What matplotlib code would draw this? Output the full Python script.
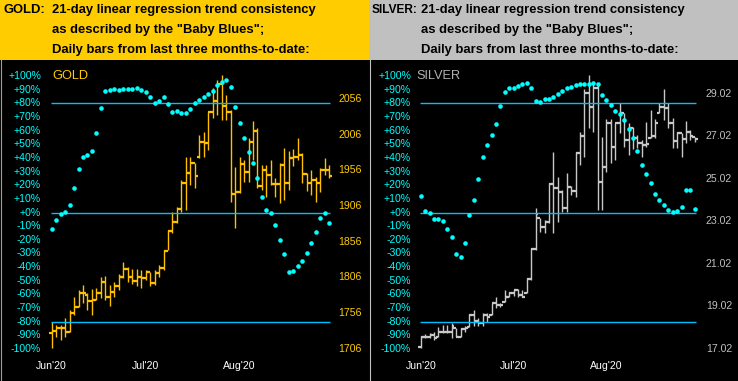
import matplotlib
matplotlib.use('Agg')
import matplotlib.pyplot as plt
from matplotlib.patches import Rectangle
from matplotlib.lines import Line2D
import matplotlib.transforms as mtransforms

plt.rcParams['font.family'] = ['Liberation Sans', 'DejaVu Sans']

# ---------------- data ----------------
date_labels = ["Jun'20", "Jul'20", "Aug'20"]
date_pos = [0, 21, 42]
pct_ticks = list(range(100, -101, -10))

gold_price_ticks = [2056, 2006, 1956, 1906, 1856, 1806, 1756, 1706]
silver_price_ticks = [29.02, 27.02, 25.02, 23.02, 21.02, 19.02, 17.02]

gold_open = [1728, 1731.3, 1735.5, 1735.5, 1729.9, 1756.5, 1764.9, 1783.6, 1781, 1772.9,
             1774.3, 1784.5, 1800.0, 1778.9, 1785.9, 1793.9, 1806.0, 1817.7, 1807.0, 1800.9,
             1806.0, 1804.6, 1814.0, 1797.6, 1812.6, 1818.7, 1843.4, 1871.4, 1884.1, 1901.4,
             1937.8, 1951.8, 1965.8, 1975.0, 1995.3, 1993.9, 2038.2, 2053.7, 2076.6, 2046.7,
             2038.2, 1922.4, 1925.2, 1964.4, 1954.1, 1996.2, 2011.6, 1934.1, 1956.5, 1949.0,
             1936.4, 1936.4, 1963.0, 1937.8, 1973.8, 1975.2, 1977.0, 1950.4, 1937.8, 1942.5,
             1938.7, 1956.5, 1956.5]
gold_high = [1743.0, 1739.2, 1739.2, 1748.6, 1760.2, 1778.9, 1788.3, 1795.3, 1784.0, 1789.2,
             1790.6, 1807.0, 1807.9, 1795.3, 1800.0, 1810.7, 1828.0, 1821.0, 1817.3, 1817.3,
             1816.3, 1816.3, 1814.0, 1816.3, 1823.3, 1844.3, 1872.4, 1898.1, 1905.1, 1942.5,
             1975.2, 1975.2, 1965.8, 2005.5, 2010.2, 2038.2, 2071.0, 2082.6, 2089.6, 2061.6,
             2040.6, 1961.2, 1975.2, 1970.5, 2000.9, 2025.2, 2014.9, 1963.5, 1963.5, 1970.5,
             1944.8, 1965.8, 1986.9, 1983.6, 1985.5, 2000.9, 1979.9, 1951.8, 1956.5, 1947.1,
             1958.8, 1973.8, 1963.5]
gold_low = [1706.5, 1721.9, 1718.2, 1722.9, 1729.9, 1753.2, 1764.9, 1769.6, 1760.2, 1753.2,
            1774.3, 1776.6, 1774.3, 1765.9, 1778.9, 1788.3, 1804.6, 1800.0, 1796.7, 1793.9,
            1790.6, 1802.3, 1794.3, 1795.3, 1807.0, 1816.3, 1844.3, 1867.7, 1881.7, 1898.1,
            1900.4, 1935.5, 1930.8, 1972.8, 1975.2, 1984.5, 2028.9, 2033.6, 2026.6, 2026.6,
            1912.1, 1874.8, 1923.8, 1940.1, 1940.1, 1970.5, 1930.8, 1928.5, 1918.2, 1935.5,
            1919.1, 1909.8, 1914.4, 1928.5, 1962.1, 1970.5, 1938.7, 1927.5, 1921.4, 1912.1,
            1926.1, 1949.5, 1944.8]
gold_close = [1731.3, 1735.5, 1735.5, 1729.9, 1756.5, 1764.9, 1783.6, 1783.6, 1772.9, 1774.3,
              1784.5, 1800.0, 1778.9, 1785.9, 1793.9, 1806.0, 1817.7, 1807.0, 1800.9, 1806.0,
              1804.6, 1814.0, 1797.6, 1812.6, 1818.7, 1843.4, 1871.4, 1884.1, 1901.4, 1937.8,
              1951.8, 1965.8, 1948.5, 1995.3, 1993.9, 2038.2, 2053.7, 2076.6, 2046.7, 2038.2,
              1922.4, 1925.2, 1964.4, 1954.1, 1996.2, 2011.6, 1934.1, 1956.5, 1949.0, 1936.4,
              1936.4, 1963.0, 1937.8, 1973.8, 1975.2, 1977.0, 1950.4, 1937.8, 1942.5, 1938.7,
              1956.5, 1956.5, 1948.5]
gold_trend = [-12.1, -5.5, -0.9, 0.4, 5.7, 18.2, 32.1, 40.9, 42.1, 45.3,
              58.5, 76.8, 89.2, 90.0, 90.7, 90.0, 90.7, 90.7, 90.7, 91.4,
              90.0, 88.3, 84.8, 80.4, 81.9, 84.8, 79.3, 73.9, 74.4, 72.7,
              73.1, 75.8, 80.4, 82.6, 84.8, 87.0, 89.0, 93.2, 95.6, 97.3,
              92.2, 77.5, 65.8, 54.8, 44.5, 36.5, 25.0, 11.1, 2.1, -0.1,
              -8.9, -20.1, -30.2, -43.4, -42.7, -38.9, -35.3, -29.5, -22.2, -14.3,
              -4.0, -0.1, -7.5]

silver_open = [17.10, 17.59, 17.59, 17.67, 17.59, 17.82, 17.79, 17.79, 17.98, 17.59,
               17.93, 18.03, 18.61, 18.34, 18.25, 18.61, 18.61, 19.16, 19.08, 19.24,
               19.47, 19.63, 19.79, 19.55, 19.63, 20.29, 21.70, 23.16, 22.77, 22.98,
               24.78, 24.58, 24.42, 23.64, 24.66, 24.47, 26.23, 27.04, 29.05, 28.43,
               29.29, 24.89, 25.60, 27.64, 26.54, 27.64, 28.11, 26.86, 27.41, 26.93,
               26.70, 26.62, 26.93, 27.04, 28.11, 28.43, 28.38, 27.64, 26.81, 27.17,
               26.89, 27.25, 26.98]
silver_high = [17.62, 17.70, 17.78, 17.82, 18.06, 18.14, 18.14, 18.22, 17.98, 18.01,
               18.09, 18.66, 18.84, 18.45, 18.69, 18.69, 19.16, 19.44, 19.19, 19.79,
               19.71, 19.82, 19.82, 19.79, 20.34, 21.75, 23.64, 23.16, 23.09, 24.81,
               26.27, 25.10, 24.50, 25.28, 24.69, 26.31, 27.25, 29.24, 29.92, 29.53,
               29.45, 27.01, 27.83, 27.83, 27.64, 28.58, 28.11, 27.64, 27.48, 27.09,
               26.86, 27.72, 28.27, 27.83, 28.61, 29.24, 28.58, 27.88, 27.25, 27.17,
               27.75, 27.33, 26.98]
silver_low = [17.04, 17.51, 17.51, 17.43, 17.59, 17.78, 17.74, 17.51, 17.59, 17.59,
              17.82, 18.03, 18.09, 18.09, 18.09, 18.29, 18.61, 18.92, 19.00, 19.24,
              19.47, 19.50, 19.47, 19.44, 19.63, 20.26, 21.67, 22.53, 22.49, 22.93,
              22.49, 23.01, 23.48, 23.48, 24.26, 24.18, 25.68, 26.07, 27.41, 27.25,
              23.56, 23.56, 25.36, 25.76, 25.91, 27.17, 26.54, 26.15, 26.42, 26.46,
              26.07, 26.54, 26.93, 26.93, 28.11, 27.80, 27.41, 26.46, 26.46, 26.04,
              26.70, 26.86, 26.78]
silver_close = [17.59, 17.59, 17.67, 17.51, 17.82, 17.79, 17.79, 18.09, 17.59, 17.93,
                18.01, 18.61, 18.34, 18.25, 18.61, 18.53, 19.16, 19.08, 19.08, 19.47,
                19.63, 19.79, 19.55, 19.47, 20.29, 21.70, 23.35, 22.77, 22.98, 24.78,
                24.58, 24.42, 23.64, 24.66, 24.47, 26.23, 27.04, 29.05, 28.43, 29.29,
                24.89, 25.60, 27.64, 26.54, 27.64, 28.14, 26.86, 27.41, 26.93, 26.70,
                26.62, 26.67, 27.04, 27.64, 28.43, 28.38, 27.64, 26.81, 27.20, 26.89,
                27.25, 27.04, 26.90]
silver_trend = [12.3, 1.1, -0.1, -4.5, -4.5, -6.2, -12.0, -17.7, -30.6, -32.4,
                -22.1, -1.6, 9.4, 24.8, 40.7, 49.7, 56.8, 64.8, 78.0, 88.3,
                91.2, 91.2, 92.7, 94.1, 95.1, 91.2, 81.9, 81.0, 83.4, 83.4,
                84.8, 87.0, 89.2, 91.4, 92.2, 93.6, 94.1, 94.1, 94.1, 94.9,
                94.1, 86.3, 82.4, 78.8, 74.4, 72.2, 67.8, 61.2, 54.8, 45.3,
                34.8, 28.2, 21.6, 13.6, 9.2, 5.5, 1.8, 0.6, 1.3, 4.2,
                16.5, 16.5, 2.6]

# ---------------- layout ----------------
W, H = 738, 381
HEAD = 60
fig = plt.figure(figsize=(W / 100, H / 100), dpi=100, facecolor='black')


def fx(px):
    return px / W


def fy(py):
    return 1 - py / H


LINE_C = '#00BFFF'
DOT_C = '#00FFFF'
PCT_C = '#00FFFF'


def draw_panel(left_px, width_px, x0_px, dx_px, o, hi, lo, cl, trend,
               price_ticks, price_fmt, price_hi_y, price_lo_y,
               bar_color, plabel_color, title, title_color, title_x):
    plot_h = H - HEAD
    ax = fig.add_axes([fx(left_px), 0, width_px / W, plot_h / H])
    ax.set_facecolor('black')
    for s in ax.spines.values():
        s.set_visible(False)
    ax.set_xticks([])
    ax.set_yticks([])
    # x mapping: bar i at x0_px + i*dx_px (panel-relative pixels)
    ax.set_xlim(-x0_px / dx_px, (width_px - x0_px) / dx_px)
    # price mapping from label anchors (absolute pixel y)
    p_top, p_bot = price_ticks[0], price_ticks[-1]
    scale = (price_lo_y - price_hi_y) / (p_top - p_bot)  # px per unit
    ylo = p_bot - (H - price_lo_y) / scale
    yhi = p_bot + (price_lo_y - HEAD) / scale
    ax.set_ylim(ylo, yhi)

    n = len(cl)
    idx = list(range(n))
    w = 0.62
    ax.vlines(idx, lo, hi, color=bar_color, lw=1.0, zorder=2)
    ax.hlines(o, [i - w for i in idx], idx, color=bar_color, lw=1.6, zorder=2)
    ax.hlines(cl, idx, [i + w for i in idx], color=bar_color, lw=1.6, zorder=2)

    # percent axis
    ax2 = ax.twinx()
    ax2.set_facecolor('none')
    for s in ax2.spines.values():
        s.set_visible(False)
    ax2.set_xticks([])
    ax2.set_yticks([])
    # +100% at y=76, -100% at y=349 (absolute pixels)
    pscale = (349 - 76) / 200.0
    pzero = (349 + 76) / 2.0
    ax2.set_ylim((pzero - H) / pscale, (pzero - HEAD) / pscale)
    ax2.set_xlim(ax.get_xlim())
    for lev in (80, 0, -80):
        ax2.hlines(lev, -0.2, n - 1 + 0.3, color=LINE_C, lw=1.0, zorder=3)
    ax2.plot(idx, trend, 'o', color=DOT_C, ms=3.3, mew=0, zorder=4)

    tr2 = mtransforms.blended_transform_factory(ax2.transAxes, ax2.transData)
    for v in pct_ticks:
        ax2.text(41 / width_px, v, f"{v:+d}%", transform=tr2, ha='right', va='center',
                 color=PCT_C, fontsize=7.6)
    tr1 = mtransforms.blended_transform_factory(ax.transAxes, ax.transData)
    for v in price_ticks:
        ax.text(362 / width_px, v, price_fmt(v), transform=tr1, ha='right', va='center',
                color=plabel_color, fontsize=7.6)
    trd = mtransforms.blended_transform_factory(ax.transData, ax.transAxes)
    for lab, pos in zip(date_labels, date_pos):
        ax.text(pos, (plot_h - 306) / plot_h, lab, transform=trd, ha='center', va='center',
                color='white', fontsize=7.6)
    ax.text(title_x / width_px, (plot_h - 16) / plot_h, title, transform=ax.transAxes,
            ha='left', va='center', color=title_color, fontsize=9.2)
    return ax


# headers
fig.add_artist(Rectangle((0, fy(HEAD)), fx(369), HEAD / H, transform=fig.transFigure,
                         facecolor='#FFCC00', edgecolor='none'))
fig.add_artist(Rectangle((fx(369), fy(HEAD)), fx(W - 369), HEAD / H, transform=fig.transFigure,
                         facecolor='#C0C0C0', edgecolor='none'))

HF = dict(fontsize=9.4, fontweight='bold', color='black', va='center', ha='left')
HF_S = dict(HF, fontsize=8.6)
fig.text(fx(4), fy(10), "GOLD:", **HF)
fig.text(fx(52), fy(10), "21-day linear regression trend consistency", **HF)
fig.text(fx(52), fy(30.5), 'as described by the "Baby Blues";', **HF)
fig.text(fx(52), fy(50), "Daily bars from last three months-to-date:", **HF)

fig.text(fx(372), fy(10), "SILVER:", **HF_S)
fig.text(fx(421), fy(10), "21-day linear regression trend consistency", **HF)
fig.text(fx(421), fy(30.5), 'as described by the "Baby Blues";', **HF)
fig.text(fx(421), fy(50), "Daily bars from last three months-to-date:", **HF)

draw_panel(0, 369, 51.7, 4.473, gold_open, gold_high, gold_low, gold_close, gold_trend,
           gold_price_ticks, lambda v: f"{v:d}", 99.0, 348.7,
           '#FFC000', '#FFCC00', 'GOLD', '#FFCC00', 52)
draw_panel(370, 368, 50.8, 4.42, silver_open, silver_high, silver_low, silver_close, silver_trend,
           silver_price_ticks, lambda v: f"{v:.2f}", 94.0, 348.7,
           '#C8C8C8', '#C0C0C0', 'SILVER', '#B0B0B0', 46)

# separators / borders
fig.add_artist(Line2D([fx(369.5), fx(369.5)], [0, fy(HEAD)], transform=fig.transFigure,
                      color='#C0C0C0', lw=0.8))
fig.add_artist(Line2D([fx(0.5), fx(0.5)], [0, fy(HEAD)], transform=fig.transFigure,
                      color='#A0A0A0', lw=0.8))

fig.savefig('out.png', dpi=100, facecolor='black')
